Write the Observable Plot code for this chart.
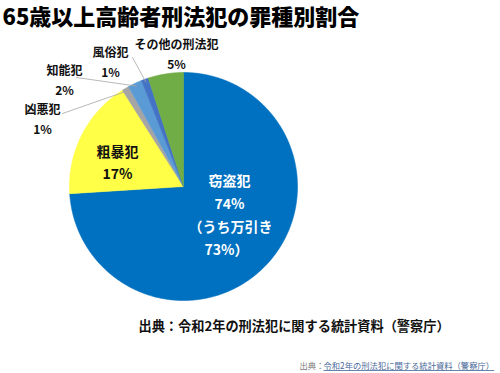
<!DOCTYPE html>
<html>
<head>
<meta charset="utf-8">
<script src="https://cdn.jsdelivr.net/npm/d3@7"></script>
<script src="https://cdn.jsdelivr.net/npm/@observablehq/plot@0.6"></script>
<style>
  html, body { margin: 0; padding: 0; background: #fff; }
  svg { display: block; }
</style>
</head>
<body>
<div id="chart"></div>
<script>
// ---- data ----
const title = "65歳以上高齢者刑法犯の罪種別割合";
const categories = ["窃盗犯", "粗暴犯", "凶悪犯", "知能犯", "風俗犯", "その他の刑法犯"];
const shares = [74, 17, 1, 2, 1, 5];
const shareLabels = ["74%", "17%", "1%", "2%", "1%", "5%"];
const sliceColors = ["#0070C0", "#FFFF47", "#A5A5A5", "#5B9BD5", "#4472C4", "#70AD47"];
const shopliftingNote = ["（うち万引き", "73%）"];
const sourceText = "出典：令和2年の刑法犯に関する統計資料（警察庁）";
const sourcePrefix = "出典：";
const sourceLink = "令和2年の刑法犯に関する統計資料（警察庁）";

// ---- layout ----
const cx = 183, cy = 186, R = 114;
const FONT = "'Noto Sans CJK JP', 'Noto Sans', sans-serif";
const labelLayout = {
  "窃盗犯":       {x: 229, y: 181, vy: 204, color: "#fff", size: 14},
  "粗暴犯":       {x: 117, y: 152, vy: 174, color: "#111", size: 14},
  "凶悪犯":       {x: 42,  y: 110, vy: 130, color: "#111", size: 12},
  "知能犯":       {x: 64,  y: 71,  vy: 91,  color: "#111", size: 12},
  "風俗犯":       {x: 110, y: 53,  vy: 73,  color: "#111", size: 12},
  "その他の刑法犯": {x: 176, y: 45,  vy: 65,  color: "#111", size: 12}
};
const leaderStart = {
  "凶悪犯": [62, 113],
  "知能犯": [76, 77],
  "風俗犯": [132, 57]
};

// ---- pie geometry from data ----
const total = d3.sum(shares);
let acc = 0;
const slices = categories.map((c, i) => {
  const a0 = acc / total * 2 * Math.PI;
  acc += shares[i];
  const a1 = acc / total * 2 * Math.PI;
  return {cat: c, a0, a1, color: sliceColors[i], label: shareLabels[i]};
});
const pt = (a, r) => ({x: cx + r * Math.sin(a), y: cy - r * Math.cos(a)});
const slicePolys = slices.map(s => {
  const pts = [{x: cx, y: cy}];
  const n = Math.max(4, Math.ceil((s.a1 - s.a0) / (Math.PI / 360)));
  for (let k = 0; k <= n; k++) pts.push(pt(s.a0 + (s.a1 - s.a0) * k / n, R));
  pts.push({x: cx, y: cy});
  return {s, pts};
});

const nameTexts = slices.map(s => ({text: s.cat, ...labelLayout[s.cat], yy: labelLayout[s.cat].y}));
const valueTexts = slices.map(s => ({text: s.label, ...labelLayout[s.cat], yy: labelLayout[s.cat].vy}));
const noteTexts = shopliftingNote.map((t, i) => ({text: t, x: i === 0 ? 230 : 226, yy: 227 + i * 23}));

const leaders = [];
slices.forEach(s => {
  if (!leaderStart[s.cat]) return;
  const m = pt((s.a0 + s.a1) / 2, R - 3);
  leaders.push({cat: s.cat, x: leaderStart[s.cat][0], y: leaderStart[s.cat][1]});
  leaders.push({cat: s.cat, x: m.x, y: m.y});
});

const marks = [];
slicePolys.forEach(({s, pts}) => {
  marks.push(Plot.line(pts, {x: "x", y: "y", fill: s.color, stroke: s.color, strokeWidth: 0.6, curve: "linear"}));
});
marks.push(Plot.line(leaders, {x: "x", y: "y", z: "cat", stroke: "#A6A6A6", strokeWidth: 0.8}));
marks.push(Plot.text(nameTexts, {x: "x", y: "yy", text: "text", fill: d => d.color, fontSize: d => d.size, fontWeight: "bold", fontFamily: FONT, textAnchor: "middle", lineAnchor: "middle"}));
marks.push(Plot.text(valueTexts, {x: "x", y: "yy", text: "text", fill: d => d.color, fontSize: d => d.size, fontWeight: "bold", fontFamily: FONT, textAnchor: "middle", lineAnchor: "middle"}));
marks.push(Plot.text(noteTexts, {x: "x", y: "yy", text: "text", fill: "#fff", fontSize: 14, fontWeight: "bold", fontFamily: FONT, textAnchor: "middle", lineAnchor: "middle"}));
// title
marks.push(Plot.text([title], {frameAnchor: "top-left", dx: 2, dy: 17, text: d => d, fontSize: 22, fontWeight: 900, fill: "#000", fontFamily: FONT, textAnchor: "start", lineAnchor: "middle"}));
// bold source
marks.push(Plot.text([sourceText], {frameAnchor: "top-left", dx: 138, dy: 326, text: d => d, fontSize: 13.2, fontWeight: "bold", fill: "#111", fontFamily: FONT, textAnchor: "start", lineAnchor: "middle"}));
// small source link
marks.push(Plot.text([sourcePrefix], {frameAnchor: "top-left", dx: 299, dy: 366, text: d => d, fontSize: 8.3, fill: "#7a7a7a", fontFamily: FONT, textAnchor: "start", lineAnchor: "middle"}));
marks.push(Plot.text([sourceLink], {frameAnchor: "top-left", dx: 323, dy: 366, text: d => d, fontSize: 8.3, fill: "#4a6a9a", fontFamily: FONT, textAnchor: "start", lineAnchor: "middle"}));

const chart = Plot.plot({
  width: 500,
  height: 373,
  margin: 0,
  style: {background: "#fff", overflow: "visible"},
  x: {domain: [0, 500], range: [0, 500], axis: null},
  y: {domain: [0, 373], range: [0, 373], axis: null},
  marks
});
chart.querySelectorAll("text").forEach(t => {
  if (t.textContent === sourceLink) t.style.textDecoration = "underline";
});
document.getElementById("chart").appendChild(chart);
</script>
</body>
</html>
